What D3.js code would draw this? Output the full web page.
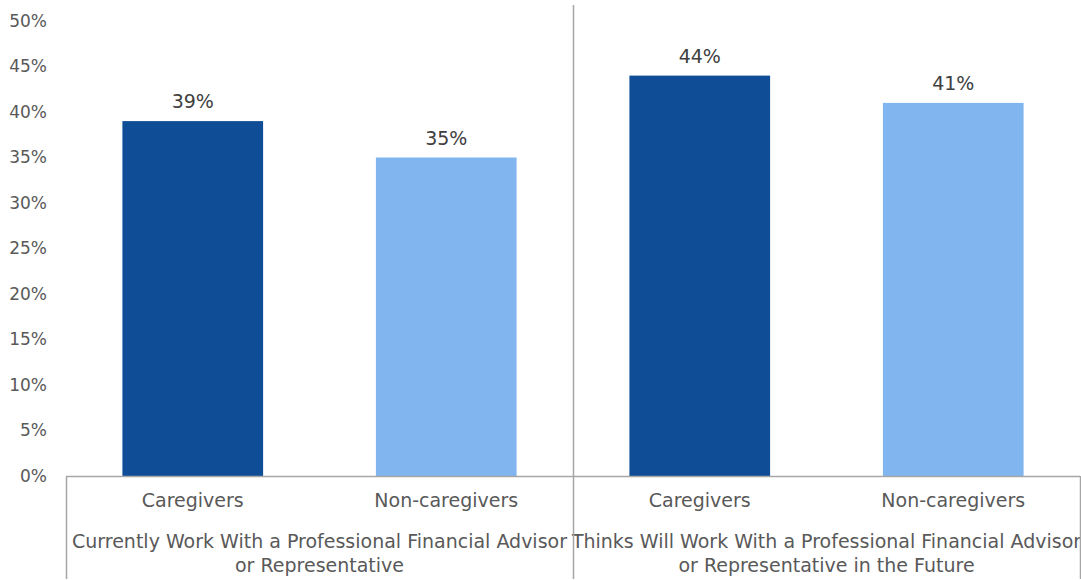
<!DOCTYPE html>
<html><head><meta charset="utf-8">
<script src="https://cdn.jsdelivr.net/npm/d3@7"></script>
<style>body{margin:0;background:#fff}svg text{font-family:"DejaVu Sans",sans-serif;fill:#595959}</style>
</head><body><svg id="c" width="1081" height="580"></svg>
<script>
const groups = ["Currently Work With a Professional Financial Advisor|or Representative",
                "Thinks Will Work With a Professional Financial Advisor|or Representative in the Future"];
const categories = ["Caregivers", "Non-caregivers"];
const values = [[39, 35], [44, 41]];
const yTicks = [0,5,10,15,20,25,30,35,40,45,50];
const colors = ["#0F4E96", "#80B5EF"];

(function(){
const svg = d3.select("#c");
const pL = 66, pR = 1080, pT = 21, pB = 476;
const y = d3.scaleLinear().domain([0,50]).range([pB, pT]);
const gx = d3.scaleBand().domain(d3.range(groups.length)).range([pL, pR]).padding(0);
const cx = d3.scaleBand().domain(categories).range([0, gx.bandwidth()]).paddingInner(0.445).paddingOuter(0.2225);

const yAxis = d3.axisLeft(y).tickValues(yTicks).tickFormat(d => d + "%").tickSize(0).tickPadding(0);
const ya = svg.append("g").attr("transform", `translate(47,0)`).call(yAxis);
ya.select(".domain").remove();
ya.selectAll("text").style("font-size","17px").style("font-family","DejaVu Sans").attr("fill","#595959");

groups.forEach((g, gi) => {
  const gg = svg.append("g").attr("transform", `translate(${gx(gi)},0)`);
  categories.forEach((c, ci) => {
    const v = values[gi][ci];
    gg.append("rect").attr("x", cx(c)).attr("width", cx.bandwidth())
      .attr("y", y(v)).attr("height", y(0) - y(v)).attr("fill", colors[ci]);
    gg.append("text").attr("x", cx(c) + cx.bandwidth()/2).attr("y", y(v) - 13)
      .attr("text-anchor","middle").style("font-size","19px").style("fill","#404040").text(v + "%");
    gg.append("text").attr("x", cx(c) + cx.bandwidth()/2).attr("y", 507)
      .attr("text-anchor","middle").style("font-size","19px").text(c);
  });
  g.split("|").forEach((l, li) => {
    gg.append("text").attr("x", gx.bandwidth()/2).attr("y", 548 + li*24)
      .attr("text-anchor","middle").style("font-size","19px").text(l);
  });
});

const lc = "#A6A6A6";
svg.append("line").attr("x1", pL).attr("x2", pR).attr("y1", pB+0.5).attr("y2", pB+0.5).attr("stroke", lc).attr("stroke-width",1.3);
[0,1,2].forEach(i => {
  const xx = Math.round(i < 2 ? gx(i) : pR) + 0.5;
  svg.append("line").attr("x1", xx).attr("x2", xx).attr("y1", i === 1 ? 5 : pB).attr("y2", 579)
    .attr("stroke", lc).attr("stroke-width", 1.5);
});
})();
</script></body></html>
